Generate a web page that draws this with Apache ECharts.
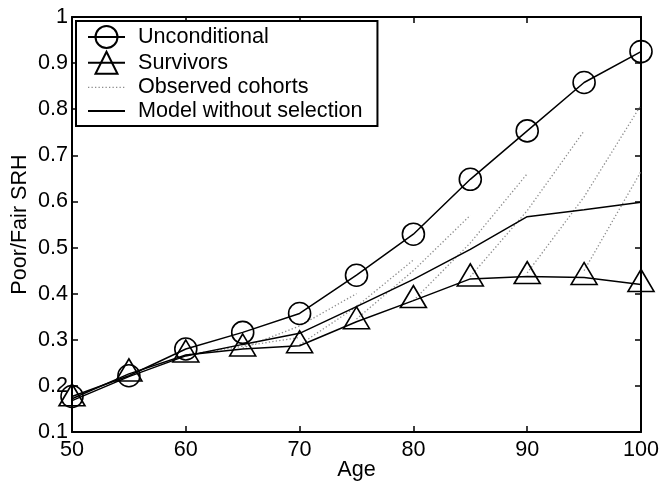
<!DOCTYPE html>
<html>
<head>
<meta charset="utf-8">
<script src="https://cdn.jsdelivr.net/npm/echarts@6/dist/echarts.min.js"></script>
<style>
  html, body { margin: 0; padding: 0; background: #fff; }
  #chart { width: 660px; height: 483px; }
</style>
</head>
<body>
<div id="chart"></div>
<script>
// Share of poor/fair self-rated health by age
const ages = [50, 55, 60, 65, 70, 75, 80, 85, 90, 95, 100];
const unconditional = [0.177, 0.222, 0.280, 0.316, 0.357, 0.440, 0.529, 0.648, 0.753, 0.858, 0.925];
const survivors     = [0.172, 0.226, 0.267, 0.280, 0.287, 0.339, 0.385, 0.432, 0.437, 0.435, 0.420];
const modelNoSel    = [0.168, 0.220, 0.265, 0.290, 0.314, 0.372, 0.431, 0.496, 0.567, 0.582, 0.598];

// Observed cohorts: first age of each cohort and its values every 5 years
const cohortStartAges = [60, 65, 70, 75, 80, 85, 90, 95];
const cohortValues = [
  [0.267, 0.286, 0.305],
  [0.282, 0.330, 0.400],
  [0.289, 0.372, 0.473],
  [0.345, 0.450, 0.570],
  [0.385, 0.510, 0.660],
  [0.437, 0.580, 0.753],
  [0.445, 0.610, 0.809],
  [0.450, 0.665]
];

const xTicks = { min: 50, max: 100, interval: 10 };
const yTicks = { min: 0.1, max: 1, interval: 0.1 };

const FONT = "'Liberation Sans', Arial, Helvetica, sans-serif";
const FS = 21.6;
const pairs = (xs, ys) => ys.map((v, i) => [xs[i], v]);

const cohortLine = { color: '#8c8c8c', width: 1.3, type: [1.3, 2.2] };

const cohortSeries = cohortStartAges.map((a, k) => ({
  name: 'Observed cohorts',
  type: 'line',
  data: cohortValues[k].map((v, i) => [a + 5 * i, v]),
  symbol: 'none',
  lineStyle: cohortLine,
  itemStyle: { color: '#8c8c8c' },
  z: 1,
  silent: true
}));

const chart = echarts.init(document.getElementById('chart'), null, { renderer: 'canvas' });

const axisCommon = {
  type: 'value',
  axisLine: { show: true, onZero: false, lineStyle: { color: '#000', width: 2 } },
  axisTick: { show: true, inside: true, length: 6, lineStyle: { color: '#000', width: 1.5 } },
  splitLine: { show: false }
};

const hiddenMarker = { color: 'rgba(0,0,0,0)', borderColor: 'rgba(0,0,0,0)', borderWidth: 0, opacity: 0 };

chart.setOption({
  animation: false,
  backgroundColor: '#fff',
  textStyle: { fontFamily: FONT },
  grid: { left: 72, right: 19, top: 17, bottom: 51, containLabel: false, outerBoundsMode: 'none' },
  xAxis: [
    Object.assign({}, axisCommon, {
      position: 'bottom',
      min: xTicks.min, max: xTicks.max, interval: xTicks.interval,
      name: 'Age', nameLocation: 'middle', nameGap: 27, nameMoveOverlap: false,
      nameTextStyle: { fontSize: FS, color: '#000', fontFamily: FONT },
      axisLabel: { fontSize: FS, color: '#000', margin: 7, fontFamily: FONT }
    }),
    Object.assign({}, axisCommon, {
      position: 'top',
      min: xTicks.min, max: xTicks.max, interval: xTicks.interval,
      axisLabel: { show: false }
    })
  ],
  yAxis: [
    Object.assign({}, axisCommon, {
      position: 'left',
      min: yTicks.min, max: yTicks.max, interval: yTicks.interval,
      name: 'Poor/Fair SRH', nameLocation: 'middle', nameGap: 41, nameMoveOverlap: false,
      nameTextStyle: { fontSize: FS, color: '#000', fontFamily: FONT },
      axisLabel: {
        fontSize: FS, color: '#000', margin: 4, fontFamily: FONT,
        formatter: v => String(Math.round(v * 10) / 10)
      }
    }),
    Object.assign({}, axisCommon, {
      position: 'right',
      min: yTicks.min, max: yTicks.max, interval: yTicks.interval,
      axisLabel: { show: false }
    })
  ],
  legend: {
    data: [
      { name: 'Unconditional' },
      { name: 'Survivors' },
      { name: 'Observed cohorts', itemStyle: hiddenMarker, lineStyle: cohortLine },
      { name: 'Model without selection', itemStyle: hiddenMarker }
    ],
    orient: 'vertical',
    left: 76, top: 21,
    padding: [4, 15, 4, 11],
    itemWidth: 37, itemHeight: 27.5, itemGap: 1.7,
    borderColor: '#000', borderWidth: 2,
    backgroundColor: '#fff',
    selectedMode: false,
    textStyle: { fontSize: FS, color: '#000', fontFamily: FONT, padding: [0, 0, 0, 8] }
  },
  series: [
    ...cohortSeries,
    {
      name: 'Model without selection',
      type: 'line',
      data: pairs(ages, modelNoSel),
      symbol: 'none',
      lineStyle: { color: '#000', width: 1.5 },
      itemStyle: { color: '#000' },
      z: 2
    },
    {
      name: 'Survivors',
      type: 'line',
      data: pairs(ages, survivors),
      symbol: 'triangle',
      symbolSize: [26, 22],
      symbolOffset: [0, -4],
      lineStyle: { color: '#000', width: 1.5 },
      itemStyle: { color: 'rgba(0,0,0,0)', borderColor: '#000', borderWidth: 1.6 },
      z: 3
    },
    {
      name: 'Unconditional',
      type: 'line',
      data: pairs(ages, unconditional),
      symbol: 'circle',
      symbolSize: 22,
      lineStyle: { color: '#000', width: 1.5 },
      itemStyle: { color: 'rgba(0,0,0,0)', borderColor: '#000', borderWidth: 1.6 },
      z: 4
    }
  ]
});
</script>
</body>
</html>
